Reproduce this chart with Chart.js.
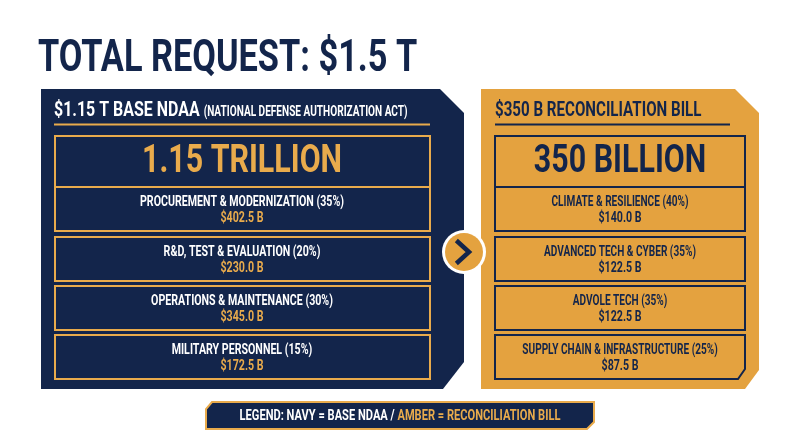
<!DOCTYPE html>
<html><head><meta charset="utf-8">
<script src="https://cdn.jsdelivr.net/npm/chart.js@4.4.1/dist/chart.umd.min.js"></script>
<style>html,body{margin:0;padding:0;background:#fff}#wrap{width:800px;height:447px}</style>
</head><body><div id="wrap"><canvas id="c" width="800" height="447"></canvas></div>
<script>
const title = "TOTAL REQUEST: $1.5 T";
const baseCategories = ["PROCUREMENT & MODERNIZATION (35%)","R&D, TEST & EVALUATION (20%)","OPERATIONS & MAINTENANCE (30%)","MILITARY PERSONNEL (15%)"];
const baseValues = [402.5, 230.0, 345.0, 172.5];
const reconCategories = ["CLIMATE & RESILIENCE (40%)","ADVANCED TECH & CYBER (35%)","ADVOLE TECH (35%)","SUPPLY CHAIN & INFRASTRUCTURE (25%)"];
const reconValues = [140.0, 122.5, 122.5, 87.5];
const NAVY="#13254b", AMBER="#e4a23f", GOLD="#e9ab4c";

function txt(ctx,s,x,y,size,color,align,sx){
  sx=sx||0.8;
  ctx.save();ctx.font="bold "+size+"px Roboto";ctx.fillStyle=color;ctx.textBaseline="middle";
  const w=ctx.measureText(s).width*sx;
  let x0=align==="center"?x-w/2:x;
  ctx.translate(x0,y);ctx.scale(sx,1);ctx.textAlign="left";ctx.fillText(s,0,0);ctx.restore();return w;
}
function poly(ctx,pts,fill,stroke,lw){ctx.beginPath();pts.forEach((p,i)=>i?ctx.lineTo(p[0],p[1]):ctx.moveTo(p[0],p[1]));ctx.closePath();
  if(fill){ctx.fillStyle=fill;ctx.fill();}if(stroke){ctx.strokeStyle=stroke;ctx.lineWidth=lw||2;ctx.stroke();}}

const infographic={id:"info",afterDraw(chart){
  const ctx=chart.ctx,kx=chart.width/800,ky=chart.height/447;
  const X=v=>v*kx,Y=v=>v*ky,P=(a,b)=>[X(a),Y(b)];
  txt(ctx,title,X(38),Y(60),44,NAVY,"left",0.78);
  poly(ctx,[P(41,89),P(440,89),P(464,113),P(464,362),P(443,389),P(41,389)],NAVY);
  let w=txt(ctx,"$1.15 T BASE NDAA ",X(54),Y(111),21,"#fff","left",0.76);
  txt(ctx,"(NATIONAL DEFENSE AUTHORIZATION ACT)",X(54)+w,Y(112),14,"#fff","left",0.72);
  ctx.fillStyle=GOLD;ctx.fillRect(X(54),Y(123.5),X(430)-X(54),2);
  poly(ctx,[P(481,89),P(735,89),P(759,113),P(759,370),P(745,389),P(481,389)],AMBER);
  txt(ctx,"$350 B RECONCILIATION BILL",X(495),Y(111),21,NAVY,"left",0.72);
  ctx.fillStyle=NAVY;ctx.fillRect(X(495),Y(123.5),X(730)-X(495),2);
  ctx.lineWidth=2;ctx.strokeStyle=GOLD;ctx.strokeRect(X(55),Y(136),X(430)-X(55),Y(187)-Y(136));
  txt(ctx,"1.15 TRILLION",X(242),Y(162),38,GOLD,"center");
  ctx.strokeStyle=NAVY;ctx.strokeRect(X(495),Y(136),X(745)-X(495),Y(187)-Y(136));
  txt(ctx,"350 BILLION",X(620),Y(162),38,NAVY,"center");
  const tops=[187,237,286,335],bots=[231,281,330,379];
  baseCategories.forEach((c,i)=>{
    ctx.strokeStyle=GOLD;ctx.lineWidth=2;ctx.strokeRect(X(55),Y(tops[i]),X(430)-X(55),Y(bots[i])-Y(tops[i]));
    txt(ctx,c,X(242),Y(tops[i]+15),14,"#fff","center",0.76);
    txt(ctx,"$"+baseValues[i].toFixed(1)+" B",X(242),Y(tops[i]+31),14,GOLD,"center",0.76);
  });
  reconCategories.forEach((c,i)=>{
    ctx.strokeStyle=NAVY;ctx.lineWidth=2;
    if(i===3) poly(ctx,[P(495,tops[i]),P(745,tops[i]),P(745,bots[i]-10),P(738,bots[i]),P(495,bots[i])],null,NAVY,2);
    else ctx.strokeRect(X(495),Y(tops[i]),X(745)-X(495),Y(bots[i])-Y(tops[i]));
    txt(ctx,c,X(620),Y(tops[i]+15),14,NAVY,"center",0.72);
    txt(ctx,"$"+reconValues[i].toFixed(1)+" B",X(620),Y(tops[i]+31),14,NAVY,"center",0.76);
  });
  ctx.beginPath();ctx.arc(X(464),Y(252),22,0,Math.PI*2);ctx.fillStyle="#fff";ctx.fill();
  ctx.beginPath();ctx.arc(X(464),Y(252),19,0,Math.PI*2);ctx.fillStyle=AMBER;ctx.fill();
  ctx.beginPath();ctx.moveTo(X(458),Y(242));ctx.lineTo(X(469),Y(252));ctx.lineTo(X(458),Y(262));
  ctx.strokeStyle=NAVY;ctx.lineWidth=4.5;ctx.lineCap="square";ctx.stroke();
  poly(ctx,[P(212,402),P(594,402),P(594,422),P(587,429),P(206,429),P(206,409)],NAVY,GOLD,2);
  const l1="LEGEND: NAVY = BASE NDAA / ",l2="AMBER = RECONCILIATION BILL";
  ctx.font="bold 15px Roboto";const tw=(ctx.measureText(l1).width+ctx.measureText(l2).width)*0.74;
  let lx=X(400)-tw/2;lx+=txt(ctx,l1,lx,Y(416),15,"#fff","left",0.74);txt(ctx,l2,lx,Y(416),15,GOLD,"left",0.74);
}};

new Chart(document.getElementById("c"),{
  type:"bar",
  data:{labels:baseCategories,datasets:[]},
  options:{responsive:false,animation:false,events:[],layout:{padding:0},
    plugins:{legend:{display:false},tooltip:{enabled:false}},
    scales:{x:{type:"linear",min:0,max:800,display:false},y:{type:"linear",min:0,max:447,reverse:true,display:false}}},
  plugins:[infographic]
});
</script></body></html>
